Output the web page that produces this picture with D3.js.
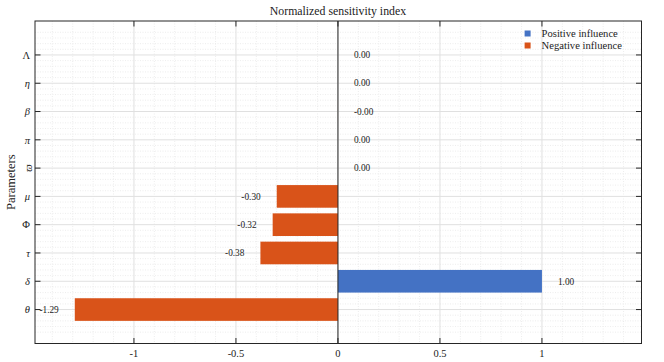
<!DOCTYPE html>
<meta charset="utf-8">
<style>
    body { margin: 0; background: #fff; }
    text { font-family: "Liberation Serif", "DejaVu Serif", serif; fill: #222; }
    .grid-major line { stroke: #e0e0e0; stroke-width: 1px; }
    .grid-minor line { stroke: #e9e9e9; stroke-width: 0.8px; stroke-dasharray: 1,1.5; }
    .tick-mark { stroke: #262626; stroke-width: 1px; }
</style>
<body>
<script src="https://d3js.org/d3.v7.min.js"></script>
<script>
    // parameters, bottom to top
    const params = ["θ", "δ", "τ", "Φ", "μ", "ϖ", "π", "β", "η", "Λ"];
    const italic = [true, true, true, false, true, true, true, true, true, false];
    const values = [-1.29, 1.00, -0.38, -0.32, -0.30, 0.00, 0.00, -0.0001, 0.00, 0.00];
    const labels = ["-1.29", "1.00", "-0.38", "-0.32", "-0.30", "0.00", "0.00", "-0.00", "0.00", "0.00"];
    const xTicks = [-1, -0.5, 0, 0.5, 1];
    const xTickLabels = ["-1", "-0.5", "0", "0.5", "1"];
    const legendItems = ["Positive influence", "Negative influence"];
    const colors = {pos: "#4472c4", neg: "#d95319"};

    const W = 664, H = 362;
    const margin = {top: 21, right: 22.5, bottom: 18.5, left: 35};
    const width = W - margin.left - margin.right,
          height = H - margin.top - margin.bottom;

    const x = d3.scaleLinear().domain([-1.485, 1.488]).range([0, width]);
    const y = d3.scaleLinear().domain([-0.2, 11.2]).range([height, 0]);

    const svg = d3.select("body").append("svg")
        .attr("width", W).attr("height", H);

    const g = svg.append("g")
        .attr("transform", `translate(${margin.left},${margin.top})`);

    // minor grid
    const minorX = d3.range(-14, 15).map(d => d / 10).filter(d => !xTicks.includes(d));
    const minorY = d3.range(0, 56).map(d => d / 5).filter(d => d % 1 !== 0);
    const gm = g.append("g").attr("class", "grid-minor");
    gm.selectAll(".mx").data(minorX).enter().append("line")
        .attr("x1", d => x(d)).attr("x2", d => x(d))
        .attr("y1", 0).attr("y2", height);
    gm.selectAll(".my").data(minorY).enter().append("line")
        .attr("x1", 0).attr("x2", width)
        .attr("y1", d => y(d)).attr("y2", d => y(d));

    // major grid
    const gM = g.append("g").attr("class", "grid-major");
    gM.selectAll(".Mx").data(xTicks).enter().append("line")
        .attr("x1", d => x(d)).attr("x2", d => x(d))
        .attr("y1", 0).attr("y2", height);
    gM.selectAll(".My").data(params).enter().append("line")
        .attr("x1", 0).attr("x2", width)
        .attr("y1", (d, i) => y(i + 1)).attr("y2", (d, i) => y(i + 1));

    // bars
    const bh = y(0) - y(0.8);
    g.selectAll(".bar").data(values).enter().append("rect")
        .attr("x", d => x(Math.min(0, d)))
        .attr("width", d => Math.abs(x(d) - x(0)))
        .attr("y", (d, i) => y(i + 1) - bh / 2)
        .attr("height", bh)
        .attr("fill", d => d > 0 ? colors.pos : colors.neg);

    // value labels
    g.selectAll(".val").data(values).enter().append("text")
        .attr("x", d => d < -0.005 ? x(d) - 16 : x(d) + 16)
        .attr("y", (d, i) => y(i + 1))
        .attr("dy", "0.35em")
        .attr("text-anchor", d => d < -0.005 ? "end" : "start")
        .style("font-size", "9.3px")
        .text((d, i) => labels[i]);

    // zero line
    g.append("line")
        .attr("x1", x(0)).attr("x2", x(0))
        .attr("y1", 0).attr("y2", height)
        .attr("stroke", "#262626").attr("stroke-width", 1);

    // box
    g.append("rect")
        .attr("x", 0).attr("y", 0).attr("width", width).attr("height", height)
        .attr("fill", "none").attr("stroke", "#262626").attr("stroke-width", 1);

    // ticks (inward)
    const tl = 5.5;
    xTicks.forEach(t => {
        g.append("line").attr("class", "tick-mark")
            .attr("x1", x(t)).attr("x2", x(t)).attr("y1", 0).attr("y2", tl);
        g.append("line").attr("class", "tick-mark")
            .attr("x1", x(t)).attr("x2", x(t)).attr("y1", height).attr("y2", height - tl);
    });
    params.forEach((p, i) => {
        g.append("line").attr("class", "tick-mark")
            .attr("x1", 0).attr("x2", tl).attr("y1", y(i + 1)).attr("y2", y(i + 1));
        g.append("line").attr("class", "tick-mark")
            .attr("x1", width).attr("x2", width - tl).attr("y1", y(i + 1)).attr("y2", y(i + 1));
    });

    // x tick labels
    g.selectAll(".xl").data(xTicks).enter().append("text")
        .attr("x", d => x(d)).attr("y", height + 13.5)
        .attr("text-anchor", "middle")
        .style("font-size", "10.5px")
        .text((d, i) => xTickLabels[i]);

    // y tick labels
    g.selectAll(".yl").data(params).enter().append("text")
        .attr("transform", (d, i) => {
            const ty = y(i + 1);
            return d === "ϖ" ? `translate(-7,${ty}) rotate(-90)` : `translate(-5,${ty})`;
        })
        .attr("dy", "0.35em")
        .attr("text-anchor", d => d === "ϖ" ? "middle" : "end")
        .style("font-size", "10.5px")
        .style("font-style", (d, i) => italic[i] ? "italic" : "normal")
        .text(d => d);

    // title
    svg.append("text")
        .attr("x", margin.left + x(0)).attr("y", 15)
        .attr("text-anchor", "middle")
        .style("font-size", "11.8px")
        .text("Normalized sensitivity index");

    // y axis label
    svg.append("text")
        .attr("transform", `translate(15,${margin.top + height / 2}) rotate(-90)`)
        .attr("text-anchor", "middle")
        .style("font-size", "12.5px")
        .text("Parameters");

    // legend
    const lg = g.append("g").attr("transform", `translate(${x(0.915)},0)`);
    legendItems.forEach((t, i) => {
        lg.append("rect")
            .attr("x", 0).attr("y", 9.5 + i * 12)
            .attr("width", 6).attr("height", 6)
            .attr("fill", i === 0 ? colors.pos : colors.neg);
        lg.append("text")
            .attr("x", 17).attr("y", 12.5 + i * 12)
            .attr("dy", "0.35em")
            .style("font-size", "10.6px")
            .text(t);
    });
</script>
